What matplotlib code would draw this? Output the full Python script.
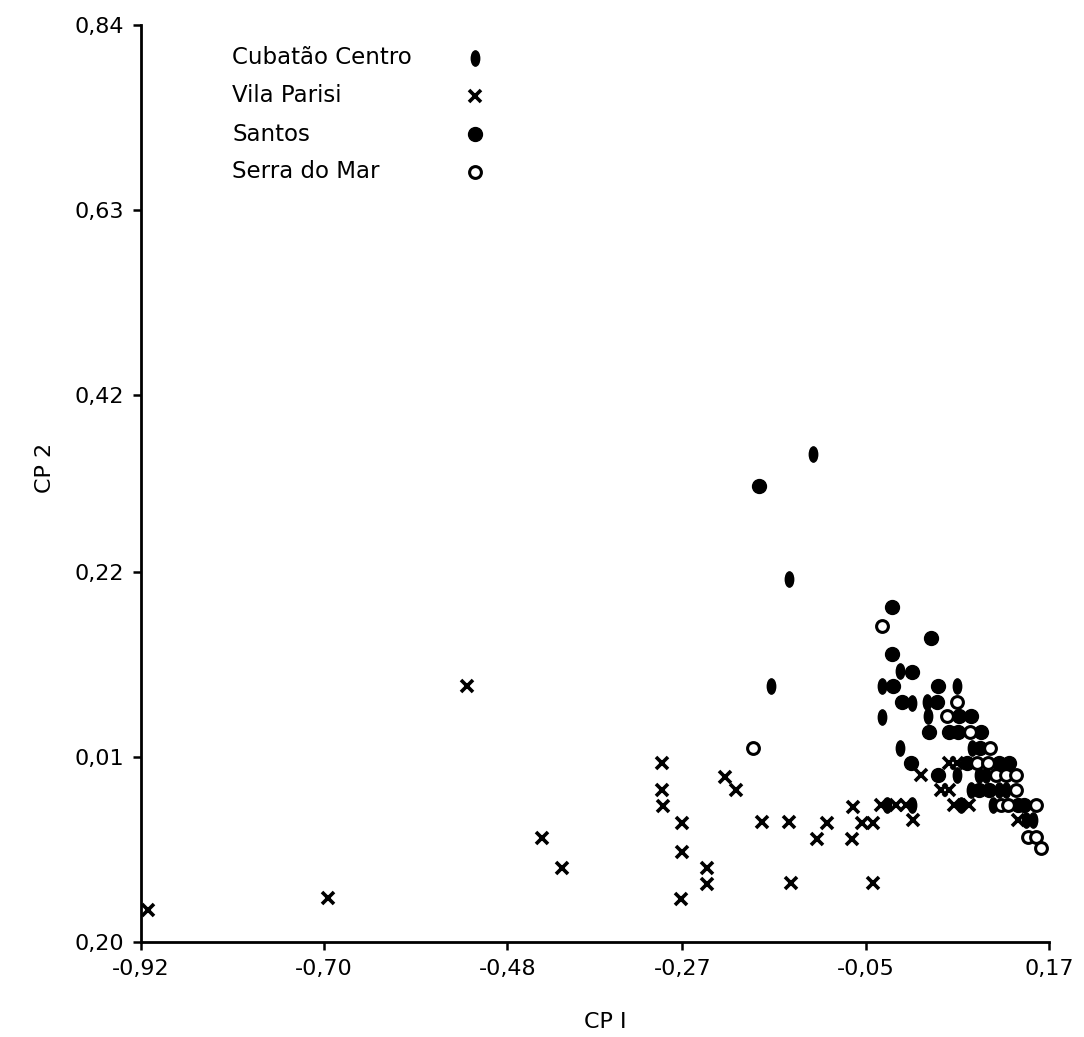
import numpy as np
import matplotlib
matplotlib.use("Agg")
import matplotlib.pyplot as plt
from matplotlib.path import Path
from matplotlib.transforms import Affine2D

# Componentes principais (CP 1 x CP 2)
cubatao_x = [-0.113, -0.142, -0.164, -0.009, -0.031, 0.060, 0.005, 0.023, -0.031, 0.025,
             -0.009, 0.078, 0.060, 0.086, 0.094, 0.076, 0.110, 0.118, -0.025, 0.006,
             0.064, 0.103, 0.142, 0.151]
cubatao_y = [0.353, 0.212, 0.090, 0.107, 0.090, 0.090, 0.071, 0.072, 0.055, 0.056,
             0.020, 0.020, -0.011, -0.011, -0.011, -0.028, -0.028, -0.028, -0.045, -0.045,
             -0.045, -0.045, -0.062, -0.062]

parisi_x = [-0.912, -0.696, -0.529, -0.438, -0.415, -0.295, -0.294, -0.293, -0.271, -0.271,
            -0.272, -0.240, -0.240, -0.219, -0.206, -0.174, -0.142, -0.140, -0.108, -0.097,
            -0.065, -0.066, -0.054, -0.041, -0.041, -0.032, -0.014, -0.002, 0.007, 0.016,
            0.050, 0.060, 0.040, 0.050, 0.056, 0.074, 0.133]
parisi_y = [-0.164, -0.150, 0.090, -0.082, -0.116, 0.003, -0.028, -0.046, -0.065, -0.098,
            -0.151, -0.116, -0.134, -0.013, -0.028, -0.064, -0.064, -0.133, -0.083, -0.065,
            -0.047, -0.083, -0.065, -0.065, -0.133, -0.045, -0.045, -0.045, -0.062, -0.011,
            0.003, 0.003, -0.028, -0.028, -0.045, -0.045, -0.062]

santos_x = [-0.178, -0.019, 0.028, -0.018, 0.006, -0.017, 0.037, -0.007, 0.036, 0.062,
            0.076, 0.026, 0.050, 0.061, 0.088, 0.087, 0.004, 0.072, 0.110, 0.122,
            0.037, 0.086, 0.098, 0.133, 0.140]
santos_y = [0.317, 0.180, 0.145, 0.127, 0.106, 0.090, 0.090, 0.072, 0.072, 0.056,
            0.056, 0.038, 0.038, 0.038, 0.038, 0.020, 0.003, 0.003, 0.003, 0.003,
            -0.011, -0.028, -0.028, -0.045, -0.045]

serra_x = [-0.185, -0.030, 0.060, 0.048, 0.075, 0.099, 0.084, 0.097, 0.106, 0.118,
           0.130, 0.130, 0.112, 0.121, 0.154, 0.145, 0.154, 0.160]
serra_y = [0.020, 0.158, 0.072, 0.056, 0.038, 0.020, 0.003, 0.003, -0.011, -0.011,
           -0.011, -0.028, -0.045, -0.045, -0.045, -0.081, -0.081, -0.093]

x_ticks = [-0.92, -0.70, -0.48, -0.27, -0.05, 0.17]
x_labels = ['-0,92', '-0,70', '-0,48', '-0,27', '-0,05', '0,17']
y_ticks = [-0.20, 0.01, 0.22, 0.42, 0.63, 0.84]
y_labels = ['0,20', '0,01', '0,22', '0,42', '0,63', '0,84']

plt.rcParams['font.family'] = ['DejaVu Sans']

# marcador "barra" (elipse vertical) para Cubatão Centro
barra = Path(Affine2D().scale(0.55, 1.0).transform(Path.unit_circle().vertices),
             Path.unit_circle().codes)

estilos = {
    'Cubatão Centro': dict(marker=barra, ms=11, color='black'),
    'Vila Parisi': dict(marker='x', ms=9, mew=2.6, color='black'),
    'Santos': dict(marker='o', ms=10, color='black'),
    'Serra do Mar': dict(marker='o', ms=8.5, mew=2.2, mfc='white', color='black'),
}

fig = plt.figure(figsize=(10.84, 10.37), dpi=100)
ax = fig.add_axes([0.130, 0.0916, 0.8377, 0.8843])

ax.plot(cubatao_x, cubatao_y, linestyle='none', **estilos['Cubatão Centro'])
ax.plot(parisi_x, parisi_y, linestyle='none', **estilos['Vila Parisi'])
ax.plot(santos_x, santos_y, linestyle='none', **estilos['Santos'])
ax.plot(serra_x, serra_y, linestyle='none', **estilos['Serra do Mar'])

ax.set_xlim(-0.92, 0.17)
ax.set_ylim(-0.20, 0.84)
ax.set_xticks(x_ticks)
ax.set_xticklabels(x_labels)
ax.set_yticks(y_ticks)
ax.set_yticklabels(y_labels)
ax.tick_params(axis='both', direction='out', length=6, width=1.8, labelsize=16, pad=6,
               colors='black')

for s in ['top', 'right']:
    ax.spines[s].set_visible(False)
for s in ['left', 'bottom']:
    ax.spines[s].set_linewidth(2)

fig.text(45 / 1084, 1 - 468 / 1037, 'CP 2', rotation=90, fontsize=16,
         ha='center', va='center')
fig.text(605 / 1084, 1 - 1022 / 1037, 'CP I', fontsize=16, ha='center', va='center')

# legenda: texto à esquerda, símbolo à direita
for i, (nome, st) in enumerate(estilos.items()):
    yf = 1 - (58 + 38 * i) / 1037
    fig.text(232 / 1084, yf, nome, fontsize=16.5, ha='left', va='center')
    ax.plot([475 / 1084], [yf], linestyle='none', transform=fig.transFigure,
            clip_on=False, **st)

fig.savefig('out.png', dpi=100)
